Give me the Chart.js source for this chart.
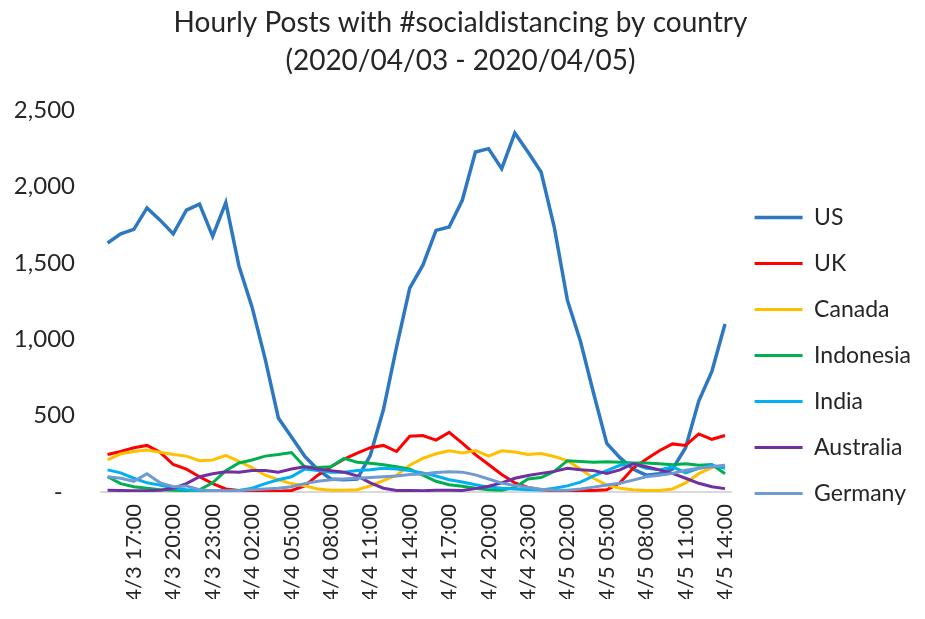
<!DOCTYPE html>
<html>
<head>
<meta charset="utf-8">
<script src="https://cdn.jsdelivr.net/npm/chart.js@4.4.1/dist/chart.umd.min.js"></script>
<style>
  html, body { margin: 0; padding: 0; background: #fff; }
  #wrap { width: 925px; height: 619px; }
</style>
</head>
<body>
<div id="wrap"><canvas id="hourlyChart" width="925" height="619"></canvas></div>
<script>
// hourly buckets, 4/3 15:00 -> 4/5 14:00
const hours = [
  '4/3 15:00', '4/3 16:00', '4/3 17:00', '4/3 18:00', '4/3 19:00', '4/3 20:00', '4/3 21:00', '4/3 22:00', '4/3 23:00',
  '4/4 00:00', '4/4 01:00', '4/4 02:00', '4/4 03:00', '4/4 04:00', '4/4 05:00', '4/4 06:00', '4/4 07:00', '4/4 08:00',
  '4/4 09:00', '4/4 10:00', '4/4 11:00', '4/4 12:00', '4/4 13:00', '4/4 14:00', '4/4 15:00', '4/4 16:00', '4/4 17:00',
  '4/4 18:00', '4/4 19:00', '4/4 20:00', '4/4 21:00', '4/4 22:00', '4/4 23:00',
  '4/5 00:00', '4/5 01:00', '4/5 02:00', '4/5 03:00', '4/5 04:00', '4/5 05:00', '4/5 06:00', '4/5 07:00', '4/5 08:00',
  '4/5 09:00', '4/5 10:00', '4/5 11:00', '4/5 12:00', '4/5 13:00', '4/5 14:00'
];

const us = [1630, 1690, 1720, 1860, 1780, 1690, 1845, 1885, 1675, 1895, 1480, 1210, 870, 485, 360, 235,
  147, 85, 80, 85, 240, 540, 950, 1335, 1485, 1713, 1735, 1910, 2226, 2248, 2117, 2350,
  2226, 2095, 1735, 1256, 985, 645, 318, 225, 150, 110, 120, 150, 290, 595, 790, 1100];
const uk = [245, 265, 290, 305, 260, 180, 150, 100, 55, 20, 10, 8, 5, 5, 10, 40,
  110, 165, 215, 255, 290, 305, 265, 365, 370, 340, 390, 320, 245, 180, 115, 60,
  30, 15, 10, 10, 10, 10, 15, 60, 155, 215, 270, 315, 305, 380, 345, 370];
const canada = [210, 250, 265, 275, 260, 245, 235, 205, 210, 240, 200, 160, 110, 80, 55, 40,
  20, 12, 12, 15, 40, 75, 110, 175, 220, 250, 270, 255, 272, 235, 270, 262,
  245, 252, 232, 205, 150, 90, 45, 25, 15, 10, 10, 20, 60, 120, 160, 175];
const indonesia = [100, 55, 35, 25, 15, 12, 10, 15, 60, 140, 190, 210, 235, 245, 258, 165,
  160, 165, 220, 195, 188, 178, 165, 150, 110, 70, 48, 38, 25, 15, 12, 30,
  85, 95, 135, 205, 200, 195, 198, 195, 190, 190, 185, 178, 185, 175, 180, 120];
const india = [145, 125, 90, 60, 45, 25, 15, 10, 8, 8, 10, 25, 55, 80, 100, 150,
  140, 130, 130, 140, 145, 155, 150, 140, 125, 105, 80, 65, 48, 32, 24, 20,
  14, 13, 25, 40, 65, 105, 140, 175, 185, 155, 145, 165, 125, 155, 175, 155];
const australia = [12, 10, 8, 8, 12, 25, 55, 100, 120, 132, 130, 140, 140, 130, 150, 165,
  150, 140, 130, 105, 60, 25, 10, 10, 8, 12, 12, 10, 22, 38, 60, 90,
  108, 122, 135, 155, 145, 140, 122, 145, 185, 165, 145, 122, 90, 57, 35, 22];
const germany = [100, 90, 70, 120, 60, 35, 40, 15, 8, 8, 10, 15, 20, 25, 35, 55,
  70, 80, 85, 90, 95, 100, 105, 115, 118, 128, 133, 130, 112, 85, 58, 42,
  30, 18, 12, 12, 20, 32, 46, 57, 78, 100, 110, 122, 142, 155, 165, 175];

const countries = ['US', 'UK', 'Canada', 'Indonesia', 'India', 'Australia', 'Germany'];
const seriesValues = [us, uk, canada, indonesia, india, australia, germany];
const seriesColors = ['#2E78C2', '#FF0000', '#FFC000', '#00B050', '#00B0F0', '#7030A0', '#6F9BD1'];
const yTicks = [0, 500, 1000, 1500, 2000, 2500];

const FONT = 'Lato, "Open Sans", sans-serif';
const TEXT = '#262626';

const datasets = countries.map((name, i) => ({
  label: name,
  data: seriesValues[i],
  borderColor: seriesColors[i],
  backgroundColor: seriesColors[i],
  borderWidth: i === 0 ? 3.5 : 3,
  pointRadius: 0,
  tension: 0,
  order: countries.length - i   // later series painted on top, like Excel
}));

new Chart(document.getElementById('hourlyChart'), {
  type: 'line',
  data: { labels: hours, datasets },
  options: {
    responsive: false,
    animation: false,
    layout: { padding: { left: 0, right: 4, top: 0, bottom: 20 } },
    plugins: {
      tooltip: { enabled: false },
      title: {
        display: true,
        text: ['Hourly Posts with #socialdistancing by country', '(2020/04/03 - 2020/04/05)'],
        color: TEXT,
        font: { family: FONT, size: 28, weight: 'normal', lineHeight: 1.36 },
        padding: { top: 4, bottom: 30 }
      },
      legend: {
        position: 'right',
        // empty title only pushes the legend items down to where they sit in the original
        title: { display: true, text: ' ', font: { size: 20, lineHeight: 1.2 }, padding: { top: 44, bottom: 44 } },
        labels: {
          usePointStyle: true,
          pointStyle: 'line',
          pointStyleWidth: 48,
          padding: 23,
          color: TEXT,
          font: { family: FONT, size: 23 },
          sort: (a, b) => a.datasetIndex - b.datasetIndex
        }
      }
    },
    scales: {
      x: {
        offset: true,
        grid: { display: false, drawTicks: false },
        border: { display: true, color: '#D9D9D9', width: 2 },
        afterFit: (s) => { s.height = 107; },
        ticks: {
          autoSkip: false,
          maxRotation: 90,
          minRotation: 90,
          padding: 12,
          color: TEXT,
          font: { family: FONT, size: 22 },
          callback: function (v, idx) {
            return (idx - 2) % 3 === 0 ? this.getLabelForValue(v) : '';
          }
        }
      },
      y: {
        min: yTicks[0],
        max: yTicks[yTicks.length - 1],
        grid: { display: false, drawTicks: false },
        border: { display: false },
        afterFit: (s) => { s.width = 101; },
        afterBuildTicks: (s) => { s.ticks = yTicks.map(v => ({ value: v })); },
        ticks: {
          padding: 26,
          color: TEXT,
          font: { family: FONT, size: 24 },
          callback: (v) => v === 0 ? '-  ' : v.toLocaleString('en-US')
        }
      }
    }
  }
});
</script>
</body>
</html>
